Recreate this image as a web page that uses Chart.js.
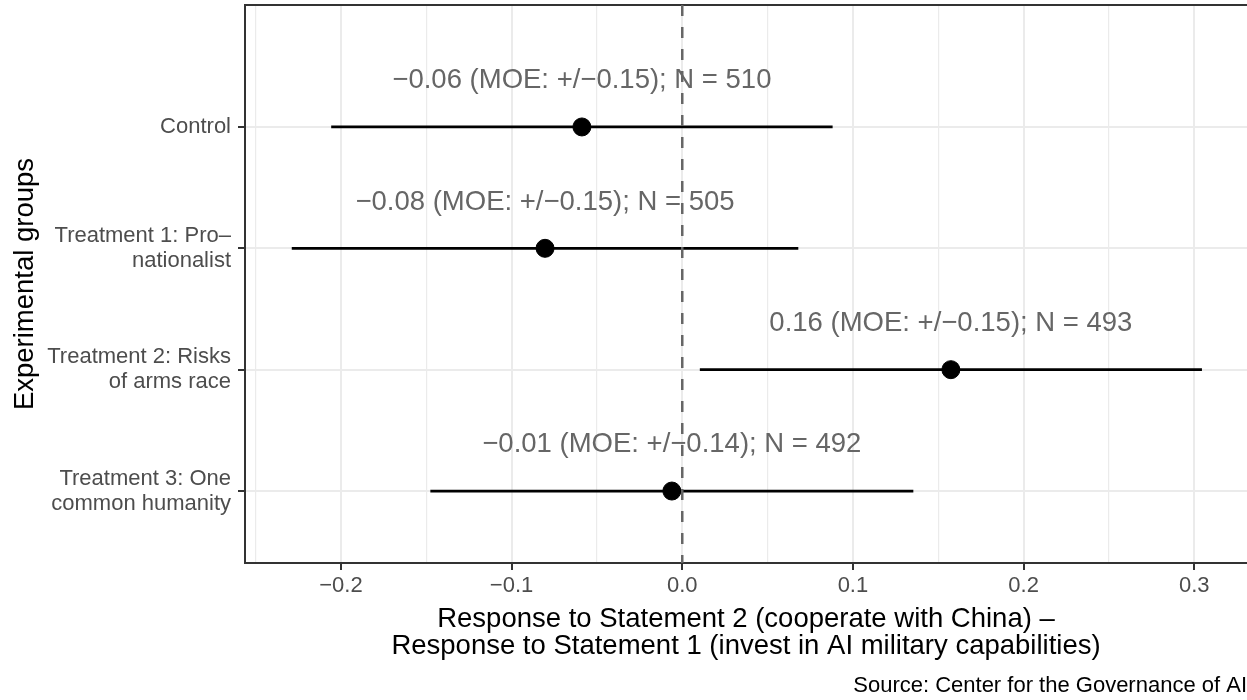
<!DOCTYPE html>
<html>
<head>
<meta charset="utf-8">
<script src="https://cdn.jsdelivr.net/npm/chart.js@4.4.1/dist/chart.umd.min.js"></script>
<style>
  html, body { margin: 0; padding: 0; background: #fff; }
  canvas { display: block; }
</style>
</head>
<body>
<canvas id="myChart" width="1247" height="700"></canvas>
<script>
// groups, top to bottom
var groupLabels = [
    ['Control'],
    ['Treatment 1: Pro\u2013', 'nationalist'],
    ['Treatment 2: Risks', 'of arms race'],
    ['Treatment 3: One', 'common humanity']
];
var groupPos = [1, 2, 3, 4];
var means = [-0.0588, -0.0804, 0.1574, -0.0061];
var moes = [0.1469, 0.1484, 0.1471, 0.1415];
var pointLabels = [
    '\u22120.06 (MOE: +/\u22120.15); N = 510',
    '\u22120.08 (MOE: +/\u22120.15); N = 505',
    '0.16 (MOE: +/\u22120.15); N = 493',
    '\u22120.01 (MOE: +/\u22120.14); N = 492'
];
var xMajorTicks = [-0.2, -0.1, 0, 0.1, 0.2, 0.3];
var xTickLabels = ['\u22120.2', '\u22120.1', '0.0', '0.1', '0.2', '0.3'];
var xMinorTicks = [-0.25, -0.15, -0.05, 0.05, 0.15, 0.25];
var refValue = 0;

var xMin = -0.2562, xMax = 0.3309;
var yMin = -0.005, yMax = 4.593;
var labelLift = 0.38;
var fontFamily = '"Liberation Sans", Arial, Helvetica, sans-serif';

function isMajor(v) {
    return xMajorTicks.some(function (t) { return Math.abs(t - v) < 1e-9; });
}
function noPad(scale) {
    scale.paddingTop = 0;
    scale.paddingBottom = 0;
    scale.paddingLeft = 0;
    scale.paddingRight = 0;
}

var datasets = [];
// error bars
for (var i = 0; i < means.length; i++) {
    datasets.push({
        data: [{ x: means[i] - moes[i], y: groupPos[i] }, { x: means[i] + moes[i], y: groupPos[i] }],
        showLine: true,
        borderColor: '#000',
        borderWidth: 2.8,
        pointRadius: 0,
        order: 3
    });
}
// point estimates
datasets.push({
    data: means.map(function (m, i) { return { x: m, y: groupPos[i] }; }),
    backgroundColor: '#000',
    borderColor: '#000',
    pointRadius: 9,
    pointHoverRadius: 9,
    order: 2
});
// zero line
datasets.push({
    data: [{ x: refValue, y: yMin }, { x: refValue, y: yMax }],
    showLine: true,
    borderColor: '#666666',
    borderWidth: 2.5,
    borderDash: [11, 11],
    pointRadius: 0,
    order: 1
});

var extras = {
    id: 'extras',
    beforeDatasetsDraw: function (chart) {
        var ctx = chart.ctx;
        var xs = chart.scales.x, ys = chart.scales.y;
        var area = chart.chartArea;
        ctx.save();
        // top panel border
        ctx.strokeStyle = '#333333';
        ctx.lineWidth = 2;
        ctx.beginPath();
        ctx.moveTo(area.left - 1, area.top);
        ctx.lineTo(area.right, area.top);
        ctx.stroke();
        // estimate labels
        ctx.font = '27.5px ' + fontFamily;
        ctx.fillStyle = '#666666';
        ctx.textAlign = 'center';
        ctx.textBaseline = 'middle';
        for (var i = 0; i < means.length; i++) {
            ctx.fillText(pointLabels[i], xs.getPixelForValue(means[i]), ys.getPixelForValue(groupPos[i] - labelLift));
        }
        ctx.restore();
    }
};

new Chart('myChart', {
    type: 'scatter',
    data: { datasets: datasets },
    options: {
        responsive: false,
        animation: false,
        devicePixelRatio: 1,
        layout: { autoPadding: false, padding: { top: 5, right: 0, bottom: 0, left: 0 } },
        plugins: {
            legend: { display: false },
            tooltip: { enabled: false },
            subtitle: {
                display: true,
                text: 'Source: Center for the Governance of AI',
                position: 'bottom',
                align: 'end',
                color: '#000',
                font: { family: fontFamily, size: 22, weight: 'normal', lineHeight: 1.2 },
                padding: { top: 0, bottom: 1 }
            }
        },
        scales: {
            x: {
                type: 'linear',
                min: xMin,
                max: xMax,
                afterBuildTicks: function (scale) {
                    scale.ticks = xMajorTicks.concat(xMinorTicks).sort(function (a, b) { return a - b; })
                        .map(function (v) { return { value: v }; });
                },
                afterFit: function (scale) { scale.height = 109.6; noPad(scale); },
                ticks: {
                    autoSkip: false,
                    maxRotation: 0,
                    padding: 3,
                    color: '#4d4d4d',
                    font: { family: fontFamily, size: 22, lineHeight: 1.2 },
                    callback: function (value) {
                        for (var k = 0; k < xMajorTicks.length; k++) {
                            if (Math.abs(xMajorTicks[k] - value) < 1e-9) return xTickLabels[k];
                        }
                        return '';
                    }
                },
                grid: {
                    color: '#ebebeb',
                    lineWidth: function (c) { return c.tick && isMajor(c.tick.value) ? 2 : 1.2; },
                    drawTicks: true,
                    tickLength: 7,
                    tickWidth: 2,
                    tickColor: function (c) { return c.tick && isMajor(c.tick.value) ? '#333333' : 'rgba(0,0,0,0)'; }
                },
                border: { display: true, color: '#333333', width: 2 },
                title: {
                    display: true,
                    text: ['Response to Statement 2 (cooperate with China) \u2013',
                           'Response to Statement 1 (invest in AI military capabilities)'],
                    color: '#000',
                    font: { family: fontFamily, size: 27.5, lineHeight: 1.0 },
                    padding: { top: 0, bottom: 12 }
                }
            },
            y: {
                type: 'linear',
                reverse: true,
                min: yMin,
                max: yMax,
                afterBuildTicks: function (scale) {
                    scale.ticks = groupPos.map(function (v) { return { value: v }; });
                },
                afterFit: function (scale) { scale.width = 245; noPad(scale); },
                ticks: {
                    autoSkip: false,
                    padding: 7,
                    color: '#4d4d4d',
                    font: { family: fontFamily, size: 22, lineHeight: 1.14 },
                    callback: function (value) {
                        var idx = groupPos.indexOf(value);
                        return idx >= 0 ? groupLabels[idx] : '';
                    }
                },
                grid: {
                    color: '#ebebeb',
                    lineWidth: 2,
                    drawTicks: true,
                    tickLength: 7,
                    tickWidth: 2,
                    tickColor: '#333333'
                },
                border: { display: true, color: '#333333', width: 2 },
                title: {
                    display: true,
                    text: 'Experimental groups',
                    color: '#000',
                    font: { family: fontFamily, size: 27.5, lineHeight: 1.2 },
                    padding: { top: 8.5, bottom: 0 }
                }
            }
        }
    },
    plugins: [extras]
});
</script>
</body>
</html>
